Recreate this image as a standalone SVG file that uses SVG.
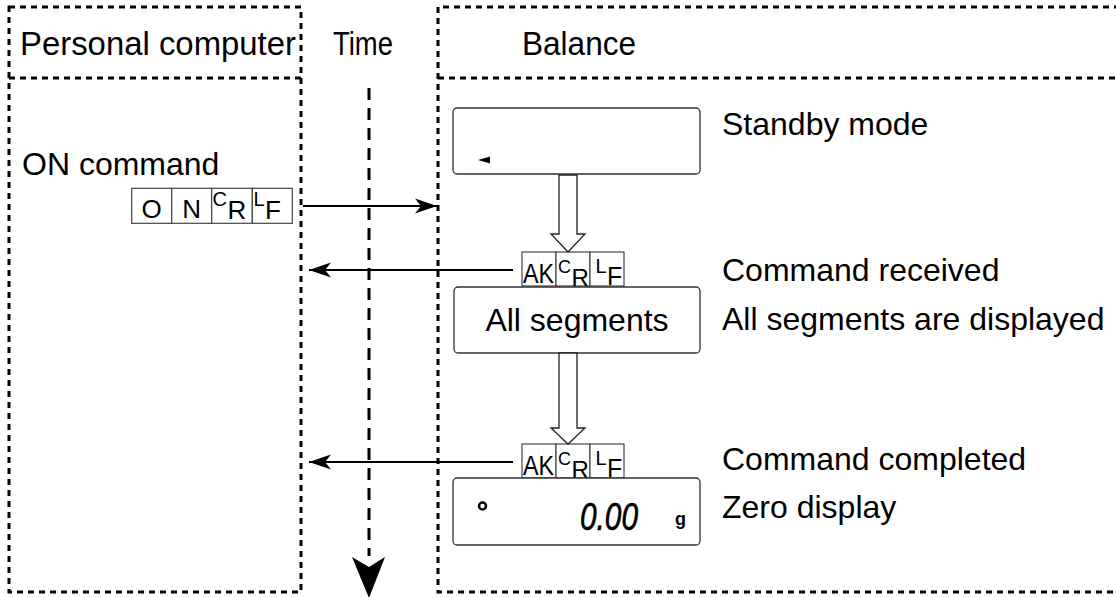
<svg xmlns="http://www.w3.org/2000/svg" width="1116" height="597" viewBox="0 0 1116 597">
<defs>
<style>
.lane{fill:none;stroke:#000;stroke-width:3;stroke-dasharray:6 5}
.time{fill:none;stroke:#000;stroke-width:3;stroke-dasharray:12 8}
.t{font-family:"Liberation Sans",Arial,sans-serif;fill:#000}
.hdr{font-size:33px}
.lbl{font-size:32px}
.box{fill:#fff;stroke:#333;stroke-width:1.3}
.cell{fill:#fff;stroke:#444;stroke-width:1.2}
.conn{stroke:#000;stroke-width:2;fill:none}
.hollow{fill:#fff;stroke:#222;stroke-width:1.3}
</style>
<marker id="ah" markerUnits="userSpaceOnUse" markerWidth="24" markerHeight="16" refX="22" refY="8" orient="auto"><path d="M0,0.5 L22,8 L0,15.5 L6,8 z" fill="#000"/></marker>
</defs>
<rect width="1116" height="597" fill="#fff"/>

<g id="pc-lane">
<rect class="lane" x="9" y="7" width="292" height="585"/>
<line class="lane" x1="9" y1="78" x2="301" y2="78"/>
<text class="t hdr" x="20" y="55" textLength="276" lengthAdjust="spacingAndGlyphs">Personal computer</text>
</g>

<g id="time-lane">
<text class="t hdr" x="333" y="55" textLength="60" lengthAdjust="spacingAndGlyphs">Time</text>
<line class="time" x1="369" y1="88" x2="369" y2="556"/>
<path d="M352,557 L369,567 L385,557 L369,598 Z" fill="#000"/>
</g>

<g id="balance-lane">
<path class="lane" d="M1120,7 H438 V592 H1120"/>
<line class="lane" x1="438" y1="78" x2="1116" y2="78"/>
<text class="t hdr" x="522" y="55" textLength="114" lengthAdjust="spacingAndGlyphs">Balance</text>
</g>

<g id="on-command">
<text class="t lbl" x="22" y="175">ON command</text>
<rect class="cell" x="131.7" y="188.3" width="40" height="35"/>
<rect class="cell" x="171.7" y="188.3" width="40" height="35"/>
<rect class="cell" x="211.7" y="188.3" width="40.6" height="35"/>
<rect class="cell" x="252.3" y="188.3" width="40" height="35"/>
<text class="t" font-size="26" x="151.7" y="218" text-anchor="middle">O</text>
<text class="t" font-size="26" x="191.7" y="218" text-anchor="middle">N</text>
<text class="t" font-size="20" x="212.5" y="206">C</text>
<text class="t" font-size="26" x="227.5" y="219">R</text>
<text class="t" font-size="20" x="253.5" y="206">L</text>
<text class="t" font-size="26" x="265" y="219">F</text>
</g>

<g id="standby">
<rect class="box" x="453" y="108" width="247" height="66" rx="4"/>
<path d="M478,160 L490,156.5 L490,163.5 Z" fill="#000"/>
<text class="t lbl" x="722" y="135">Standby mode</text>
</g>

<g id="ack-received">
<rect class="cell" x="522" y="252" width="34" height="34"/>
<rect class="cell" x="556" y="252" width="34" height="34"/>
<rect class="cell" x="590" y="252" width="34" height="34"/>
<text class="t" font-size="27" x="523" y="283" textLength="31" lengthAdjust="spacingAndGlyphs">AK</text>
<text class="t" font-size="18" x="558" y="273">C</text>
<text class="t" font-size="24" x="571.5" y="286">R</text>
<text class="t" font-size="20" x="595.5" y="273">L</text>
<text class="t" font-size="25" x="607" y="285">F</text>
<text class="t lbl" x="722" y="281">Command received</text>
</g>

<g id="all-segments">
<rect class="box" x="454" y="287" width="246" height="66" rx="4"/>
<text class="t lbl" x="577" y="331" text-anchor="middle">All segments</text>
<text class="t lbl" x="722" y="330">All segments are displayed</text>
</g>

<g id="ack-completed">
<rect class="cell" x="522" y="444" width="34" height="34"/>
<rect class="cell" x="556" y="444" width="34" height="34"/>
<rect class="cell" x="590" y="444" width="34" height="34"/>
<text class="t" font-size="27" x="523" y="475" textLength="31" lengthAdjust="spacingAndGlyphs">AK</text>
<text class="t" font-size="18" x="558" y="465">C</text>
<text class="t" font-size="24" x="571.5" y="478">R</text>
<text class="t" font-size="20" x="595.5" y="465">L</text>
<text class="t" font-size="25" x="607" y="477">F</text>
<text class="t lbl" x="722" y="470">Command completed</text>
</g>

<g id="zero-display">
<rect class="box" x="453" y="478" width="247" height="67" rx="4"/>
<circle cx="482.5" cy="506" r="3.5" fill="none" stroke="#000" stroke-width="2.5"/>
<text class="t" font-size="38" font-style="italic" stroke="#000" stroke-width="0.6" x="580" y="530" textLength="58" lengthAdjust="spacingAndGlyphs">0.00</text>
<text class="t" font-size="18" font-weight="bold" x="675" y="525">g</text>
<text class="t lbl" x="722" y="518">Zero display</text>
</g>

<g id="connectors">
<polygon class="hollow" points="559,175 577,175 577,234 585,234 568,252 551,234 559,234"/>
<polygon class="hollow" points="559,353 577,353 577,428 585,428 568,444 551,428 559,428"/>
<line class="conn" x1="303" y1="206" x2="437" y2="206" marker-end="url(#ah)"/>
<line class="conn" x1="513" y1="270" x2="309" y2="270" marker-end="url(#ah)"/>
<line class="conn" x1="513" y1="462" x2="309" y2="462" marker-end="url(#ah)"/>
</g>
</svg>
